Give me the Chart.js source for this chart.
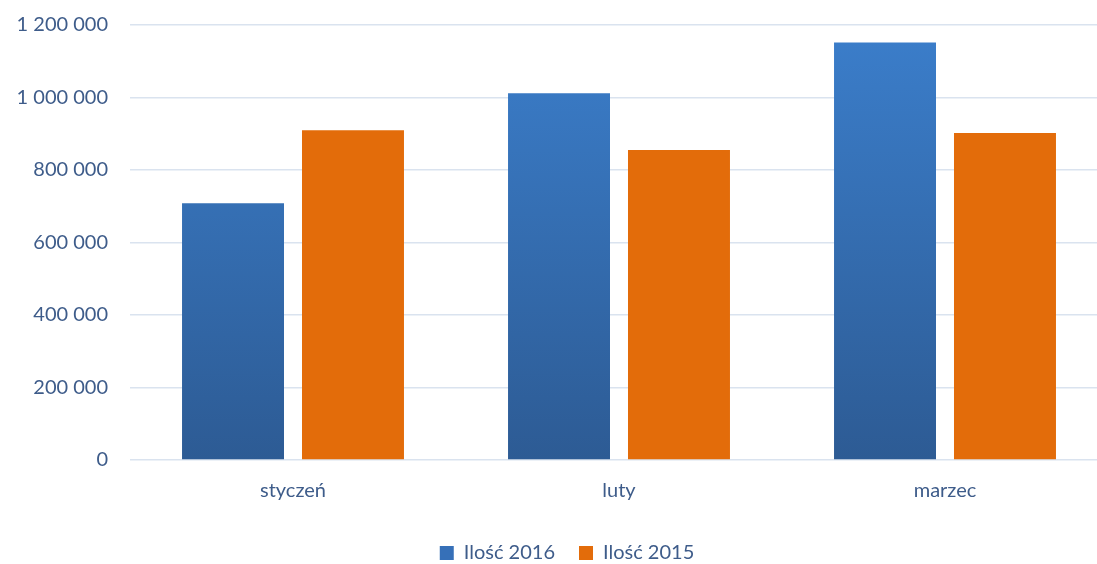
<!DOCTYPE html>
<html lang="pl">
<head>
  <meta charset="UTF-8">
  <title>Ilość 2016 / 2015</title>
  <style>
    html, body {
      margin: 0;
      padding: 0;
      overflow: hidden;
      background: #fff;
    }
    .wrap {
      width: 1110px;
      height: 573px;
    }
  </style>
</head>
<body>
  <div class="wrap"><canvas id="chart"></canvas></div>
  <script src="https://cdn.jsdelivr.net/npm/chart.js@4.4.9/dist/chart.umd.min.js"></script>
  <script>
    const months = ['styczeń', 'luty', 'marzec']
    const seriesNames = ['Ilość 2016', 'Ilość 2015']
    const values2016 = [708000, 1012000, 1152000]
    const values2015 = [910000, 855000, 902000]
    const yTickLabels = ['0', '200 000', '400 000', '600 000', '800 000', '1 000 000', '1 200 000']

    const textColor = '#3e5c8a'
    const gridColor = '#dae3ef'

    function blueGradient(context) {
      const { ctx, chartArea } = context.chart
      if (!chartArea) return '#3a7dc9'
      const g = ctx.createLinearGradient(0, chartArea.top, 0, chartArea.bottom)
      g.addColorStop(0, '#3b7ecb')
      g.addColorStop(1, '#2d5b94')
      return g
    }

    // legend sits a bit right of centre in the original
    const shiftLegend = {
      id: 'shiftLegend',
      afterLayout(chart) {
        if (chart.legend) {
          chart.legend.left += 13
          chart.legend.right += 13
        }
      }
    }

    new Chart(document.getElementById('chart'), {
      type: 'bar',
      data: {
        labels: months,
        datasets: [
          {
            label: seriesNames[0],
            data: values2016,
            backgroundColor: blueGradient,
            borderWidth: 0
          },
          {
            label: seriesNames[1],
            data: values2015,
            backgroundColor: '#e36c0a',
            borderWidth: 0
          }
        ]
      },
      options: {
        responsive: true,
        maintainAspectRatio: false,
        animation: false,
        categoryPercentage: 0.736,
        barPercentage: 0.85,
        layout: {
          padding: { top: 25, right: 2, left: 0, bottom: 0 }
        },
        scales: {
          y: {
            min: 0,
            max: 1200000,
            ticks: {
              stepSize: 200000,
              padding: 22,
              color: textColor,
              font: { family: 'Lato', size: 20 },
              callback: (value, index) => yTickLabels[index]
            },
            grid: { color: gridColor, lineWidth: 1.5, drawTicks: false },
            border: { display: false },
            afterFit: scale => {
              scale.width = 130
              scale.paddingTop = 0
              scale.paddingBottom = 0
            }
          },
          x: {
            ticks: {
              padding: 19,
              color: textColor,
              font: { family: 'Lato', size: 20 }
            },
            grid: { display: false, drawTicks: false },
            border: { display: false },
            afterFit: scale => { scale.height = 59 }
          }
        },
        plugins: {
          legend: {
            position: 'bottom',
            labels: {
              boxWidth: 14,
              boxHeight: 14,
              padding: 24,
              color: textColor,
              font: { family: 'Lato', size: 20 },
              generateLabels: chart => seriesNames.map((name, i) => ({
                text: name,
                fillStyle: i === 0 ? '#3670b8' : '#e36c0a',
                strokeStyle: 'transparent',
                lineWidth: 0,
                datasetIndex: i,
                fontColor: textColor
              }))
            }
          },
          tooltip: { enabled: false }
        }
      },
      plugins: [shiftLegend]
    })
  </script>
</body>
</html>
